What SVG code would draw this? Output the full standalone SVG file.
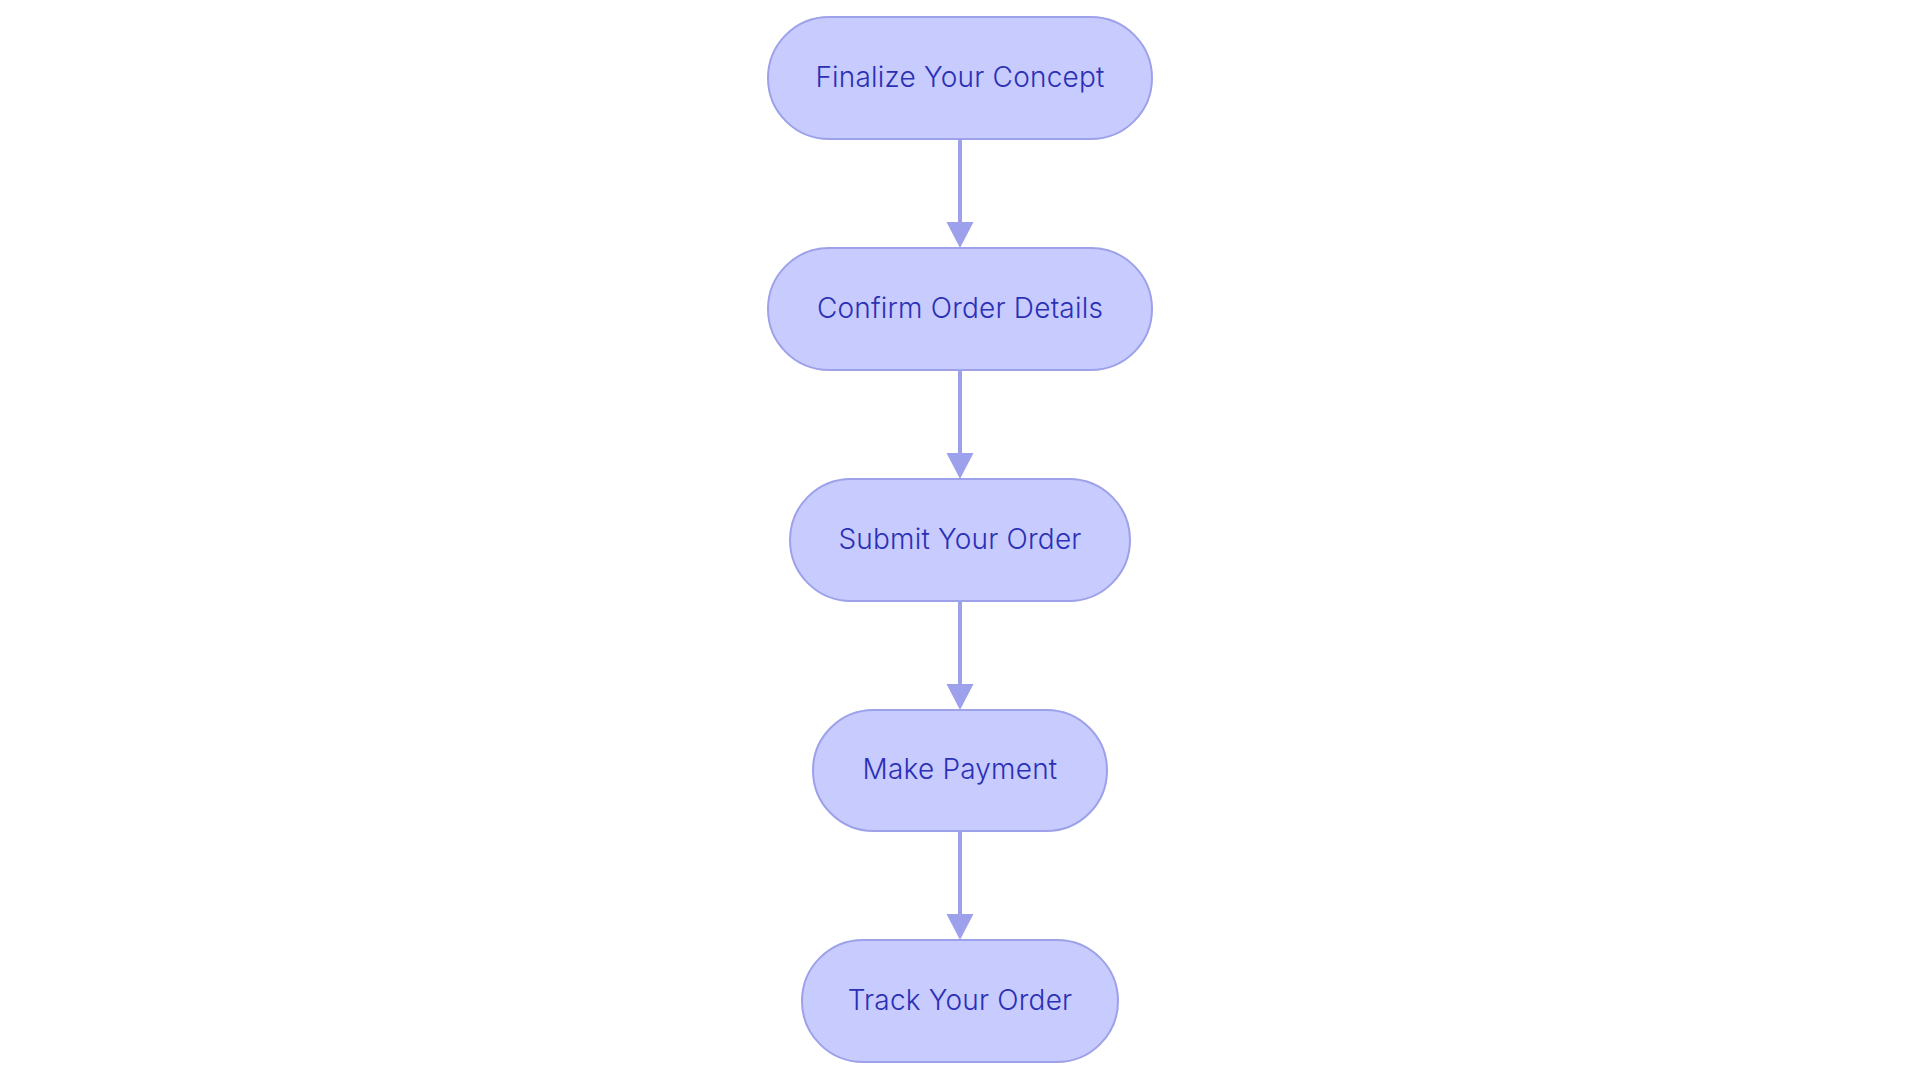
<svg xmlns="http://www.w3.org/2000/svg" width="1920" height="1083" viewBox="0 0 1920 1083">
<defs>
<style>
.node rect{fill:#c7cbfe;stroke:#9da1ea;stroke-width:2}
.node text{font-family:Inter,"Noto Sans","Liberation Sans",sans-serif;font-size:28px;font-weight:300;letter-spacing:0.2px;fill:#2b30b5;text-anchor:middle}
.edge{stroke:#9da1ec;stroke-width:4;fill:none}
.head{fill:#9da1ec}
</style>
</defs>
<rect width="1920" height="1083" fill="#ffffff"/>
<g id="connectors">
<line class="edge" x1="960" y1="139" x2="960" y2="224"/>
<polygon class="head" points="946.5,222 973.5,222 960,248"/>
<line class="edge" x1="960" y1="370" x2="960" y2="455"/>
<polygon class="head" points="946.5,453 973.5,453 960,479"/>
<line class="edge" x1="960" y1="601" x2="960" y2="686"/>
<polygon class="head" points="946.5,684 973.5,684 960,710"/>
<line class="edge" x1="960" y1="831" x2="960" y2="916"/>
<polygon class="head" points="946.5,914 973.5,914 960,940"/>
</g>
<g id="n1" class="node"><rect x="768" y="17" width="384" height="122" rx="61"/><text x="960" y="86.5">Finalize Your Concept</text></g>
<g id="n2" class="node"><rect x="768" y="248" width="384" height="122" rx="61"/><text x="960" y="317.5">Confirm Order Details</text></g>
<g id="n3" class="node"><rect x="790" y="479" width="340" height="122" rx="61"/><text x="960" y="548.5">Submit Your Order</text></g>
<g id="n4" class="node"><rect x="813" y="710" width="294" height="121" rx="60.5"/><text x="960" y="778.5">Make Payment</text></g>
<g id="n5" class="node"><rect x="802" y="940" width="316" height="122" rx="61"/><text x="960" y="1009.5">Track Your Order</text></g>
</svg>
